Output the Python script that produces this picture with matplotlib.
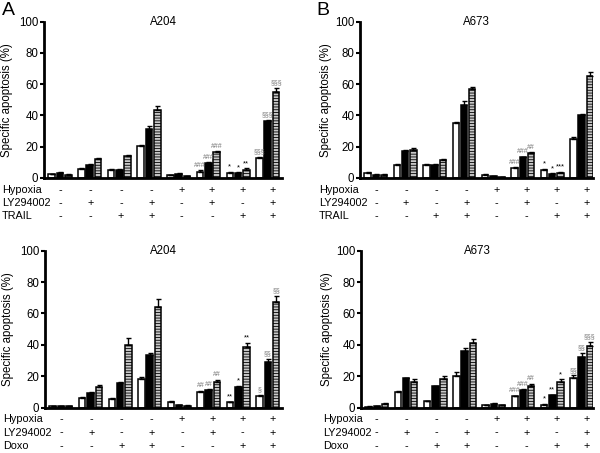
import numpy as np
import matplotlib
matplotlib.use("Agg")
import matplotlib.pyplot as plt

plt.rcParams['font.family'] = ['Liberation Sans', 'DejaVu Sans']
plt.rcParams['hatch.linewidth'] = 0.6

# ==============================
# Data (specific apoptosis, %)
# ==============================
hypoxia = ['-', '-', '-', '-', '+', '+', '+', '+']
ly294002 = ['-', '+', '-', '+', '-', '+', '-', '+']
drug = ['-', '-', '+', '+', '-', '-', '+', '+']

# A204 + TRAIL
a204_trail_white = [2.3, 5.7, 5.0, 20.6, 1.7, 4.0, 3.4, 12.9]
a204_trail_black = [3.4, 8.3, 5.3, 31.2, 2.7, 9.4, 3.2, 36.5]
a204_trail_hatch = [1.9, 12.1, 14.0, 43.5, 1.1, 16.4, 5.3, 55.0]
a204_trail_white_err = [0.5, 0.8, 0.8, 0.8, 0.4, 0.8, 0.6, 0.8]
a204_trail_black_err = [0.4, 0.8, 0.5, 2.2, 0.4, 0.7, 0.5, 0.8]
a204_trail_hatch_err = [0.4, 0.8, 1.0, 2.4, 0.3, 0.8, 0.8, 2.8]
a204_trail_marks = [['', '', ''], ['', '', ''], ['', '', ''], ['', '', ''],
                    ['', '', ''], ['###', '###', '###'], ['*', '*', '**'],
                    ['§§§', '§§§', '§§§']]

# A673 + TRAIL
a673_trail_white = [3.5, 8.6, 8.4, 35.0, 2.2, 6.5, 5.4, 25.0]
a673_trail_black = [2.0, 17.0, 8.4, 47.0, 1.0, 13.2, 2.6, 40.0]
a673_trail_hatch = [2.2, 18.0, 11.5, 57.0, 0.7, 16.0, 3.4, 65.0]
a673_trail_white_err = [0.4, 0.5, 0.4, 1.0, 0.3, 0.5, 0.6, 1.0]
a673_trail_black_err = [0.3, 1.0, 0.4, 2.0, 0.2, 0.5, 0.3, 0.8]
a673_trail_hatch_err = [0.3, 1.5, 0.6, 1.5, 0.2, 0.6, 0.4, 2.5]
a673_trail_marks = [['', '', ''], ['', '', ''], ['', '', ''], ['', '', ''],
                    ['', '', ''], ['###', '###', '##'], ['*', '*', '***'],
                    ['', '', '']]

# A204 + Doxo
a204_doxo_white = [0.8, 6.2, 5.6, 18.2, 3.7, 10.1, 3.3, 7.6]
a204_doxo_black = [0.8, 9.2, 15.8, 33.5, 1.6, 11.2, 12.9, 28.9]
a204_doxo_hatch = [0.8, 13.3, 39.7, 64.0, 1.2, 16.3, 38.5, 67.6]
a204_doxo_white_err = [0.2, 0.6, 0.5, 1.0, 0.4, 0.6, 0.5, 0.5]
a204_doxo_black_err = [0.2, 0.6, 0.5, 1.0, 0.2, 0.5, 0.8, 2.2]
a204_doxo_hatch_err = [0.3, 1.2, 4.5, 5.5, 0.3, 1.5, 2.8, 3.5]
a204_doxo_marks = [['', '', ''], ['', '', ''], ['', '', ''], ['', '', ''],
                   ['', '', ''], ['##', '##', '##'], ['**', '*', '**'],
                   ['§', '§§', '§§']]

# A673 + Doxo
a673_doxo_white = [0.6, 9.7, 3.9, 20.0, 1.3, 7.1, 1.9, 18.9]
a673_doxo_black = [1.0, 18.5, 13.5, 36.0, 2.4, 11.4, 7.7, 32.5]
a673_doxo_hatch = [2.4, 16.1, 17.9, 41.0, 1.3, 14.0, 16.1, 39.5]
a673_doxo_white_err = [0.2, 0.8, 0.5, 2.5, 0.2, 0.4, 0.4, 1.8]
a673_doxo_black_err = [0.2, 0.5, 0.4, 2.0, 0.3, 0.4, 0.4, 2.5]
a673_doxo_hatch_err = [0.4, 1.8, 2.3, 3.0, 0.2, 1.2, 1.8, 2.5]
a673_doxo_marks = [['', '', ''], ['', '', ''], ['', '', ''], ['', '', ''],
                   ['', '', ''], ['###', '###', '##'], ['*', '**', '*'],
                   ['§§', '§§', '§§§']]

# ==============================
# Figure layout (pixels -> fractions)
# ==============================
W, H = 600, 453
fig = plt.figure(figsize=(6, 4.53), dpi=100)


def px_axes(x0, x1, y_top, y_bot):
    return fig.add_axes([x0 / W, 1 - y_bot / H, (x1 - x0) / W, (y_bot - y_top) / H])


def draw_panel(ax, title, white, black, hatch, werr, berr, herr, marks,
               drug_name, label_x, ylabel_x, xlim):
    x = np.arange(len(white))
    off, bw = 0.28, 0.22
    series = [(white, werr, 'white', None, -off),
              (black, berr, 'black', None, 0.0),
              (hatch, herr, '#c8c8c8', '------', off)]
    for vals, err, fc, hat, dx in series:
        ax.bar(x + dx, vals, width=bw, color=fc, edgecolor='black',
               linewidth=1.1, hatch=hat, zorder=2)
        ax.errorbar(x + dx, vals, yerr=[np.zeros(len(vals)), err], fmt='none',
                    ecolor='black', elinewidth=1.0, capsize=1.8, capthick=1.0,
                    zorder=3)
    for i in range(len(white)):
        for j, (vals, err, _, _, dx) in enumerate(series):
            m = marks[i][j]
            if not m:
                continue
            col = 'black' if '*' in m else '#777777'
            ax.text(i + dx, vals[i] + err[i] + 0.8, m, ha='center', va='bottom',
                    fontsize=5.5 if '*' in m else 5, color=col)

    ax.set_xlim(*xlim)
    ax.set_ylim(0, 100)
    ax.set_yticks(range(0, 101, 20))
    ax.set_xticks([])
    for s in ['top', 'right']:
        ax.spines[s].set_visible(False)
    ax.spines['left'].set_linewidth(2.0)
    ax.spines['bottom'].set_linewidth(2.0)
    ax.tick_params(axis='y', length=3, width=1.5, pad=1, labelsize=8.3)
    ax.set_ylabel('Specific apoptosis (%)', fontsize=8.3)
    ax.yaxis.set_label_coords(ylabel_x, 0.5)
    ax.text(0.5, 1.0, title, transform=ax.transAxes, ha='center', va='center',
            fontsize=8.3)

    # condition table under the axis
    rows = [('Hypoxia', hypoxia), ('LY294002', ly294002), (drug_name, drug)]
    trans = ax.get_xaxis_transform()
    for r, (name, signs) in enumerate(rows):
        yy = -0.075 - r * 0.085
        ax.text(label_x, yy, name, transform=ax.transAxes, ha='left',
                va='center', fontsize=7.8)
        for i, s in enumerate(signs):
            ax.text(i * 1.025, yy, s, transform=trans, ha='center', va='center',
                    fontsize=7.8)


ax1 = px_axes(44, 282, 21.7, 178)
draw_panel(ax1, 'A204', a204_trail_white, a204_trail_black, a204_trail_hatch,
           a204_trail_white_err, a204_trail_black_err, a204_trail_hatch_err,
           a204_trail_marks, 'TRAIL', -0.178, -0.13, (-0.54, 7.48))

ax2 = px_axes(360, 593, 21.7, 178)
draw_panel(ax2, 'A673', a673_trail_white, a673_trail_black, a673_trail_hatch,
           a673_trail_white_err, a673_trail_black_err, a673_trail_hatch_err,
           a673_trail_marks, 'TRAIL', -0.176, -0.12, (-0.54, 7.39))

ax3 = px_axes(45, 282, 250.7, 407.5)
draw_panel(ax3, 'A204', a204_doxo_white, a204_doxo_black, a204_doxo_hatch,
           a204_doxo_white_err, a204_doxo_black_err, a204_doxo_hatch_err,
           a204_doxo_marks, 'Doxo', -0.178, -0.13, (-0.54, 7.48))

ax4 = px_axes(361, 593, 250.7, 407.5)
draw_panel(ax4, 'A673', a673_doxo_white, a673_doxo_black, a673_doxo_hatch,
           a673_doxo_white_err, a673_doxo_black_err, a673_doxo_hatch_err,
           a673_doxo_marks, 'Doxo', -0.165, -0.12, (-0.54, 7.39))

fig.text(2 / W, 1 - 2 / H, 'A', ha='left', va='top', fontsize=14)
fig.text(316 / W, 1 - 2 / H, 'B', ha='left', va='top', fontsize=14)

fig.savefig('out.png', dpi=100)
